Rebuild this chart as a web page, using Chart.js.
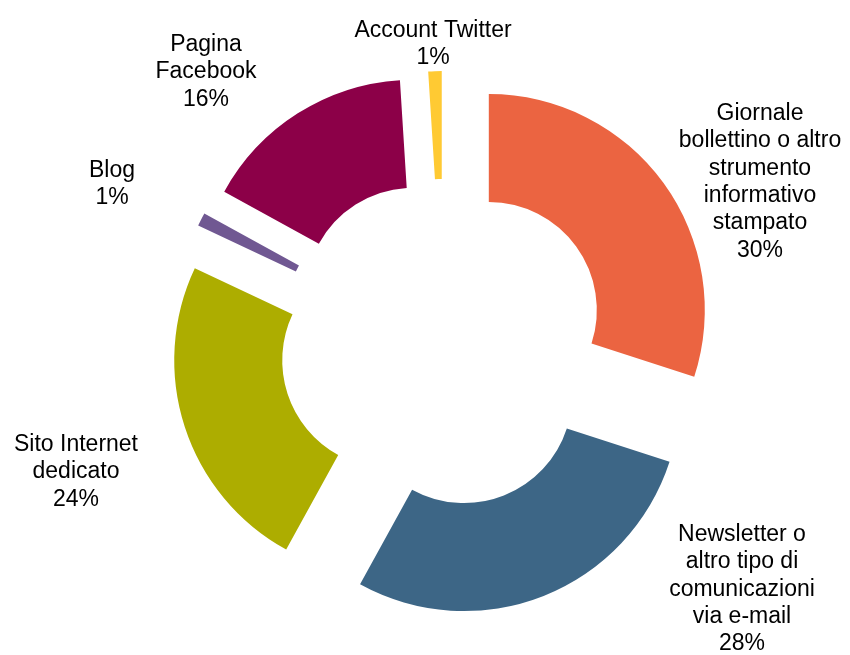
<!DOCTYPE html>
<html lang="it">
<head>
<meta charset="utf-8">
<title>Strumenti di comunicazione</title>
<script src="https://cdn.jsdelivr.net/npm/chart.js@4/dist/chart.umd.min.js"></script>
<style>
  html, body { margin: 0; padding: 0; background: #ffffff; }
  #wrap { width: 850px; height: 655px; position: relative; }
</style>
</head>
<body>
<div id="wrap"><canvas id="chart" width="850" height="655"></canvas></div>
<script>
// Categories (each entry split into the lines shown in its label)
const categories = [
  ['Giornale', 'bollettino o altro', 'strumento', 'informativo', 'stampato'],
  ['Newsletter o', 'altro tipo di', 'comunicazioni', 'via e-mail'],
  ['Sito Internet', 'dedicato'],
  ['Blog'],
  ['Pagina', 'Facebook'],
  ['Account Twitter']
];

// Share of each channel, in percent
const shares = [30, 28, 24, 1, 16, 1];

const sliceColors = ['#EB6441', '#3D6686', '#ADAD00', '#705892', '#8C0048', '#FFCA33'];

// Label anchors: centre x and baseline of the first line
const labelAnchors = [
  { x: 760, y: 120 },
  { x: 742, y: 541 },
  { x: 76,  y: 451 },
  { x: 112, y: 177 },
  { x: 206, y: 51 },
  { x: 433, y: 37 }
];

const LABEL_FONT = '23px "Liberation Sans", Arial, sans-serif';
const LINE_HEIGHT = 27.3;
const EXPLODE = 56;   // distance each slice is pulled out from the centre

// Moves every arc outwards along its own bisector
const explodePlugin = {
  id: 'explodeSlices',
  beforeDatasetsDraw(chart) {
    const area = chart.chartArea;
    const cx = (area.left + area.right) / 2;
    const cy = (area.top + area.bottom) / 2;
    chart.getDatasetMeta(0).data.forEach(arc => {
      const mid = (arc.startAngle + arc.endAngle) / 2;
      arc.x = cx + Math.cos(mid) * EXPLODE;
      arc.y = cy + Math.sin(mid) * EXPLODE;
    });
  }
};

// Category name plus rounded percentage next to each slice
const labelPlugin = {
  id: 'sliceLabels',
  afterDatasetsDraw(chart) {
    const ctx = chart.ctx;
    const data = chart.data.datasets[0].data;
    const total = data.reduce((a, b) => a + b, 0);
    ctx.save();
    ctx.font = LABEL_FONT;
    ctx.fillStyle = '#000000';
    ctx.textAlign = 'center';
    ctx.textBaseline = 'alphabetic';
    data.forEach((v, i) => {
      const lines = categories[i].concat([Math.round(v / total * 100) + '%']);
      const a = labelAnchors[i];
      lines.forEach((t, k) => ctx.fillText(t, a.x, a.y + k * LINE_HEIGHT));
    });
    ctx.restore();
  }
};

new Chart(document.getElementById('chart'), {
  type: 'doughnut',
  data: {
    labels: categories.map(c => c.join(' ')),
    datasets: [{
      data: shares,
      backgroundColor: sliceColors,
      borderWidth: 0
    }]
  },
  options: {
    responsive: false,
    animation: false,
    radius: 216,
    cutout: '50%',
    layout: { padding: { left: 37, top: 31, right: 0, bottom: 0 } },
    plugins: {
      legend: { display: false },
      tooltip: { enabled: false }
    },
    events: []
  },
  plugins: [explodePlugin, labelPlugin]
});
</script>
</body>
</html>
